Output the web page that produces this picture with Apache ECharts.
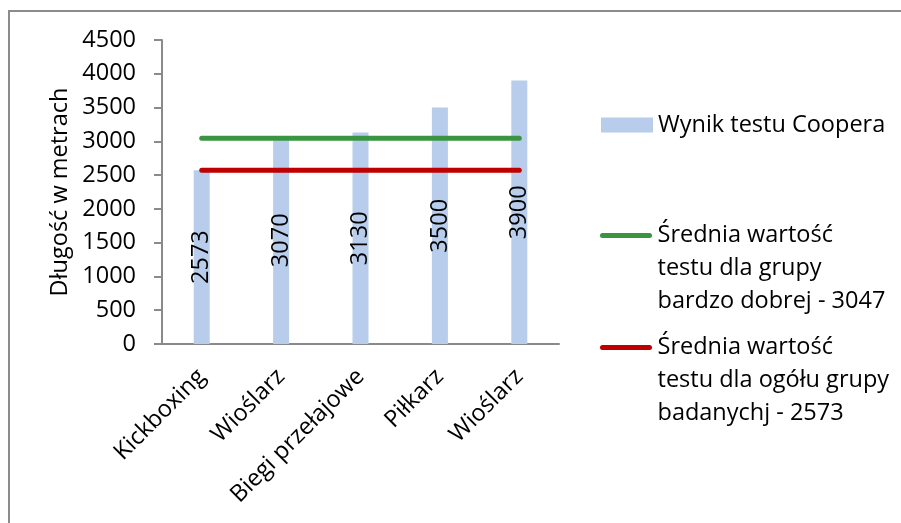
<!DOCTYPE html>
<html>
<head>
<meta charset="utf-8">
<script src="https://cdn.jsdelivr.net/npm/echarts@6/dist/echarts.min.js"></script>
<style>
  html, body { margin: 0; padding: 0; background: #fff; }
  #chart { width: 901px; height: 523px; }
</style>
</head>
<body>
<div id="chart"></div>
<script>
// Cooper test results per athlete, with two reference averages
const categories = ['Kickboxing', 'Wioślarz', 'Biegi przełajowe', 'Piłkarz', 'Wioślarz'];
const cooperValues = [2573, 3070, 3130, 3500, 3900];
const goodGroupAvg = [3047, 3047, 3047, 3047, 3047];
const overallAvg = [2573, 2573, 2573, 2573, 2573];
const yTicks = { min: 0, max: 4500, interval: 500 };

const nameBar = 'Wynik testu Coopera';
const nameGood = 'Średnia wartość\ntestu dla grupy\nbardzo dobrej - 3047';
const nameAll = 'Średnia wartość\ntestu dla ogółu grupy\nbadanychj - 2573';

const FONT = '"Open Sans", sans-serif';
const FS = 23.5;
const GREEN = '#3a9441';
const RED = '#c00000';
const BLUE = '#b7cdeb';

// capsule-shaped legend marker for the average lines
const capsule = 'path://M2.5,0 L49.5,0 A2.5,2.5 0 0 1 49.5,5 L2.5,5 A2.5,2.5 0 0 1 2.5,0 Z';

const chart = echarts.init(document.getElementById('chart'), null, { renderer: 'canvas' });

const legendText = (extra) => Object.assign({
  fontFamily: FONT, fontSize: FS, color: '#000'
}, extra);

// two empty lines above keep the first text line level with the marker
const firstLineOnMarker = (name) => '\n\n' + name;

chart.setOption({
  backgroundColor: '#fff',
  animation: false,
  graphic: [{
    type: 'rect',
    shape: { x: 9, y: 11, width: 920, height: 540 },
    style: { fill: 'none', stroke: '#8c8c8c', lineWidth: 2 },
    silent: true
  }],
  grid: { left: 162, right: 342, top: 40, bottom: 179, containLabel: false },
  legend: [
    {
      data: [nameBar], left: 601, top: 110, padding: 0,
      itemWidth: 52, itemHeight: 15, icon: 'rect',
      textStyle: legendText({ lineHeight: 30 })
    },
    {
      data: [nameGood], left: 600, top: 153, padding: 0,
      itemWidth: 53, itemHeight: 5, icon: capsule,
      formatter: firstLineOnMarker,
      textStyle: legendText({ lineHeight: 33 })
    },
    {
      data: [nameAll], left: 600, top: 265, padding: 0,
      itemWidth: 53, itemHeight: 5, icon: capsule,
      formatter: firstLineOnMarker,
      textStyle: legendText({ lineHeight: 33 })
    }
  ],
  xAxis: {
    type: 'category',
    data: categories,
    axisLine: { lineStyle: { color: '#8a8a8a', width: 2 } },
    axisTick: { show: false },
    axisLabel: {
      rotate: 45, margin: 29, interval: 0,
      fontFamily: FONT, fontSize: FS, color: '#000'
    }
  },
  yAxis: {
    type: 'value',
    min: yTicks.min, max: yTicks.max, interval: yTicks.interval,
    name: 'Długość w metrach',
    nameLocation: 'middle',
    nameGap: 90,
    nameTextStyle: { fontFamily: FONT, fontSize: FS, color: '#000' },
    axisLine: { show: true, lineStyle: { color: '#8a8a8a', width: 2 } },
    axisTick: { show: true, length: 8, lineStyle: { color: '#8a8a8a', width: 2 } },
    splitLine: { show: false },
    axisLabel: {
      margin: 26, fontFamily: FONT, fontSize: FS, color: '#000',
      formatter: (v) => String(v)
    }
  },
  series: [
    {
      name: nameBar,
      type: 'bar',
      data: cooperValues,
      barWidth: 16,
      itemStyle: { color: BLUE },
      label: {
        show: true, position: 'inside', rotate: 90,
        fontFamily: FONT, fontSize: FS, color: '#000'
      }
    },
    {
      name: nameGood,
      type: 'line',
      data: goodGroupAvg,
      symbol: 'none',
      color: GREEN,
      lineStyle: { color: GREEN, width: 5, cap: 'round' }
    },
    {
      name: nameAll,
      type: 'line',
      data: overallAvg,
      symbol: 'none',
      color: RED,
      lineStyle: { color: RED, width: 5, cap: 'round' }
    }
  ]
});
</script>
</body>
</html>
